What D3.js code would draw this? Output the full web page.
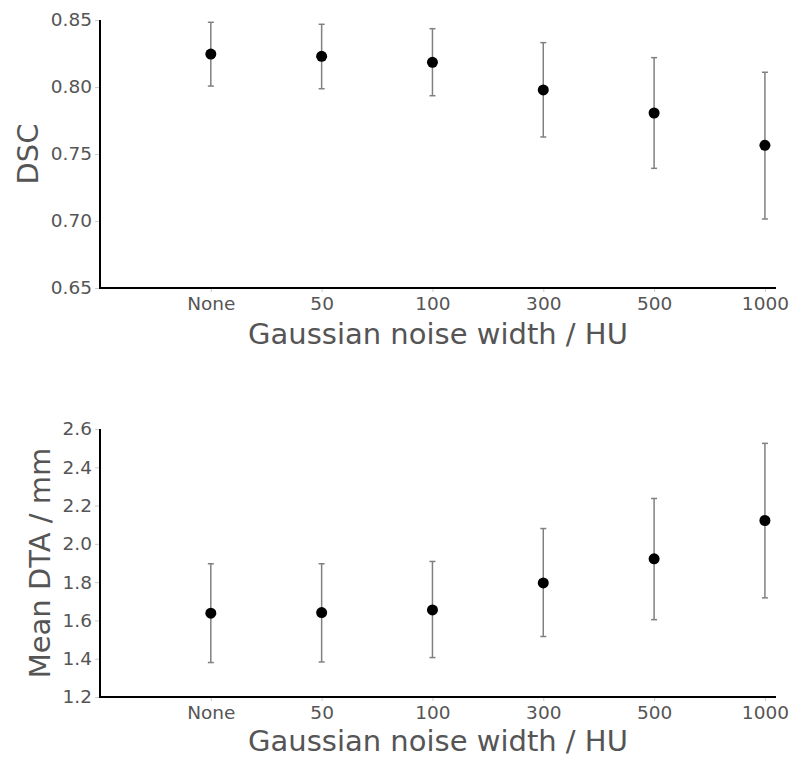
<!DOCTYPE html>
<html>
<head>
  <meta charset="utf-8">
  <script src="https://d3js.org/d3.v7.min.js"></script>
  <style>
    body { margin: 0; background: #fff; font-family: "DejaVu Sans", sans-serif; }
    svg text { font-family: "DejaVu Sans", sans-serif; }
    .tick text { fill: #555; }
    .axis-title { fill: #555; }
  </style>
</head>
<body>
<script>
  // noise widths (HU) on the x axis
  var categories = ["None", "50", "100", "300", "500", "1000"];

  // DSC: mean with lower / upper error bar ends
  var dscMean  = [0.8246, 0.8229, 0.8184, 0.7978, 0.7806, 0.7565];
  var dscLow   = [0.8007, 0.7987, 0.7935, 0.7627, 0.7393, 0.7015];
  var dscHigh  = [0.8483, 0.8468, 0.8435, 0.8331, 0.8219, 0.8110];
  var dscTicks = [0.65, 0.70, 0.75, 0.80, 0.85];

  // Mean DTA (mm)
  var dtaMean  = [1.638, 1.641, 1.655, 1.796, 1.922, 2.122];
  var dtaLow   = [1.380, 1.383, 1.406, 1.516, 1.604, 1.718];
  var dtaHigh  = [1.896, 1.896, 1.908, 2.080, 2.237, 2.525];
  var dtaTicks = [1.2, 1.4, 1.6, 1.8, 2.0, 2.2, 2.4, 2.6];

  var W = 792, H = 758;
  var svg = d3.select("body").append("svg")
      .attr("width", W)
      .attr("height", H);

  function panel(opts) {
    var left = 100, right = 776;
    var x = d3.scaleLinear().domain([0, 6.1]).range([left, right]);
    var y = d3.scaleLinear().domain(opts.domain).range([opts.bottom, opts.top]);
    var g = svg.append("g");

    var rows = categories.map(function (c, i) {
      return { c: c, i: i + 1, m: opts.mean[i], lo: opts.low[i], hi: opts.high[i] };
    });

    // y axis
    var ya = g.append("g")
        .attr("transform", "translate(" + left + ",0)")
        .call(d3.axisLeft(y).tickValues(opts.ticks).tickFormat(opts.fmt).tickSize(5).tickPadding(3));
    ya.attr("font-family", null);
    ya.select(".domain").remove();
    ya.selectAll(".tick line").attr("stroke", "#ccc");
    ya.selectAll(".tick text").style("font-size", "18.5px");

    // x axis
    var xa = g.append("g")
        .attr("transform", "translate(0," + opts.bottom + ")")
        .call(d3.axisBottom(x).tickValues(rows.map(function (d) { return d.i; }))
          .tickFormat(function (v) { return categories[v - 1]; }).tickSize(4).tickPadding(5));
    xa.attr("font-family", null);
    xa.select(".domain").remove();
    xa.selectAll(".tick line").attr("stroke", "#ccc");
    xa.selectAll(".tick text").style("font-size", "18.5px");

    // spines
    g.append("line").attr("x1", left).attr("x2", left)
      .attr("y1", opts.top).attr("y2", opts.bottom + 1)
      .attr("stroke", "#000").attr("stroke-width", 2);
    g.append("line").attr("x1", left).attr("x2", right)
      .attr("y1", opts.bottom).attr("y2", opts.bottom)
      .attr("stroke", "#000").attr("stroke-width", 2);

    // error bars
    var eb = g.selectAll(".eb").data(rows).enter().append("g")
        .attr("stroke", "#808080").attr("stroke-width", 1.5);
    eb.append("line")
        .attr("x1", function (d) { return x(d.i); }).attr("x2", function (d) { return x(d.i); })
        .attr("y1", function (d) { return y(d.lo); }).attr("y2", function (d) { return y(d.hi); });
    eb.append("line")
        .attr("x1", function (d) { return x(d.i) - 3; }).attr("x2", function (d) { return x(d.i) + 3; })
        .attr("y1", function (d) { return y(d.lo); }).attr("y2", function (d) { return y(d.lo); });
    eb.append("line")
        .attr("x1", function (d) { return x(d.i) - 3; }).attr("x2", function (d) { return x(d.i) + 3; })
        .attr("y1", function (d) { return y(d.hi); }).attr("y2", function (d) { return y(d.hi); });

    // points
    g.selectAll(".pt").data(rows).enter().append("circle")
        .attr("cx", function (d) { return x(d.i); })
        .attr("cy", function (d) { return y(d.m); })
        .attr("r", 5.5)
        .attr("fill", "#000");

    // titles
    g.append("text").attr("class", "axis-title")
        .attr("x", (left + right) / 2).attr("y", opts.bottom + opts.xTitleGap)
        .attr("text-anchor", "middle").style("font-size", "29px")
        .text("Gaussian noise width / HU");
    g.append("text").attr("class", "axis-title")
        .attr("transform", "translate(" + opts.titleX + "," + (opts.top + opts.bottom) / 2 + ") rotate(-90)")
        .attr("text-anchor", "middle").style("font-size", "29px")
        .text(opts.title);
  }

  panel({
    top: 20, bottom: 288, domain: [0.65, 0.85],
    mean: dscMean, low: dscLow, high: dscHigh, ticks: dscTicks,
    fmt: d3.format(".2f"), title: "DSC", titleX: 38, xTitleGap: 56
  });

  panel({
    top: 429, bottom: 697, domain: [1.2, 2.6],
    mean: dtaMean, low: dtaLow, high: dtaHigh, ticks: dtaTicks,
    fmt: d3.format(".1f"), title: "Mean DTA / mm", titleX: 50, xTitleGap: 54
  });
</script>
</body>
</html>
